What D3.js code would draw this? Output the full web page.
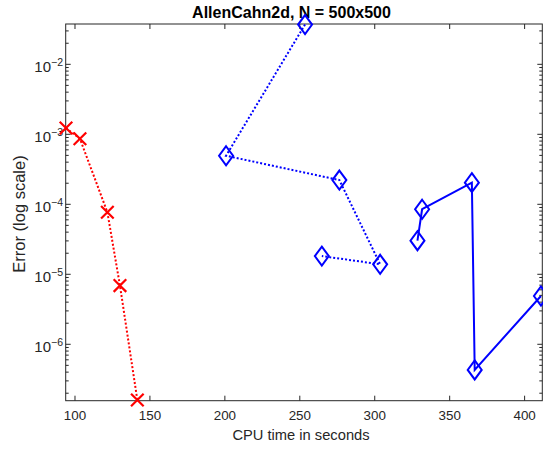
<!DOCTYPE html>
<html><head><meta charset="utf-8">
<script src="https://cdn.jsdelivr.net/npm/d3@7"></script>
<style>body{margin:0;background:#fff;} svg{display:block;} text{font-family:"Liberation Sans",Arial,Helvetica,sans-serif;fill:#262626;}</style>
</head><body>
<script>
// Data
const titleText = "AllenCahn2d, N = 500x500";
const xLabelText = "CPU time in seconds";
const yLabelText = "Error (log scale)";
const xTicks = [100, 150, 200, 250, 300, 350, 400];
const yTickExps = [-6, -5, -4, -3, -2];

const redX = [94, 103.3, 121.6, 130, 141.6];
const redY = [1.23e-3, 8.65e-4, 7.7e-5, 6.9e-6, 1.6e-7];

const blueDotX = [253.5, 200.8, 276.4, 303.6, 264.7];
const blueDotY = [0.037, 4.94e-4, 2.22e-4, 1.39e-5, 1.82e-5];

const blueSolidX = [328.5, 331.6, 364.8, 366.7, 410.9];
const blueSolidY = [3.02e-5, 8.5e-5, 2.04e-4, 4.3e-7, 4.9e-6];

const xDomain = [93.8, 411.8];
const yDomain = [Math.pow(10, -6.806), Math.pow(10, -1.424)];

// Layout
const W = 543, H = 450;
const L = 65.7, R = 542.3, T = 24, B = 400.7;
const axisColor = "#262626";

const svg = d3.select("body").append("svg").attr("width", W).attr("height", H);
svg.append("rect").attr("width", W).attr("height", H).attr("fill", "#fff");

const x = d3.scaleLinear().domain(xDomain).range([L, R]);
const y = d3.scaleLog().domain(yDomain).range([B, T]);

// Box
svg.append("rect").attr("x", L).attr("y", T).attr("width", R - L).attr("height", B - T)
  .attr("fill", "none").attr("stroke", axisColor).attr("stroke-width", 1);

const g = svg.append("g");
// X ticks (bottom and top, inward)
xTicks.forEach(v => {
  const px = x(v);
  g.append("line").attr("x1", px).attr("x2", px).attr("y1", B).attr("y2", B - 5).attr("stroke", axisColor);
  g.append("line").attr("x1", px).attr("x2", px).attr("y1", T).attr("y2", T + 5).attr("stroke", axisColor);
  svg.append("text").attr("x", px).attr("y", B + 19.5).attr("text-anchor", "middle")
    .style("font-size", "13.4px").text(v);
});

// Y ticks (major + minor, left and right, inward)
const lo = Math.floor(Math.log10(yDomain[0])), hi = Math.ceil(Math.log10(yDomain[1]));
for (let e = lo; e <= hi; e++) {
  for (let m = 1; m <= 9; m++) {
    const v = m * Math.pow(10, e);
    if (v < yDomain[0] || v > yDomain[1]) continue;
    const py = y(v);
    const len = m === 1 ? 5 : 3;
    g.append("line").attr("x1", L).attr("x2", L + len).attr("y1", py).attr("y2", py).attr("stroke", axisColor);
    g.append("line").attr("x1", R).attr("x2", R - len).attr("y1", py).attr("y2", py).attr("stroke", axisColor);
  }
}
yTickExps.forEach(e => {
  const py = y(Math.pow(10, e));
  const t = svg.append("text").attr("x", 63).attr("y", py + 8).attr("text-anchor", "end").style("font-size", "15px");
  t.append("tspan").text("10");
  t.append("tspan").attr("dy", -6.5).style("font-size", "10.5px").text("\u2212" + String(-e));
});

// Labels
svg.append("text").attr("x", 291.5).attr("y", 18).attr("text-anchor", "middle")
  .style("font-size", "16px").style("font-weight", "bold").style("fill", "#000").text(titleText);
svg.append("text").attr("x", 301).attr("y", 440).attr("text-anchor", "middle")
  .style("font-size", "14.7px").text(xLabelText);
svg.append("text").attr("transform", `translate(25,214) rotate(-90)`).attr("text-anchor", "middle")
  .style("font-size", "16.5px").text(yLabelText);

// Lines
const line = d3.line().x(d => x(d[0])).y(d => y(d[1]));
const redData = redX.map((v, i) => [v, redY[i]]);
const bdData = blueDotX.map((v, i) => [v, blueDotY[i]]);
const bsData = blueSolidX.map((v, i) => [v, blueSolidY[i]]);

svg.append("path").datum(redData).attr("d", line).attr("fill", "none").attr("stroke", "#ff0000")
  .attr("stroke-width", 2).attr("stroke-dasharray", "2,2");
svg.append("path").datum(bdData).attr("d", line).attr("fill", "none").attr("stroke", "#0000ff")
  .attr("stroke-width", 2).attr("stroke-dasharray", "2,2");
svg.append("path").datum(bsData).attr("d", line).attr("fill", "none").attr("stroke", "#0000ff")
  .attr("stroke-width", 2);

// Markers
const s = 6.3;
svg.selectAll(".xm").data(redData).enter().append("path")
  .attr("d", d => { const cx = x(d[0]), cy = y(d[1]);
    return `M${cx-s},${cy-s}L${cx+s},${cy+s}M${cx-s},${cy+s}L${cx+s},${cy-s}`; })
  .attr("stroke", "#ff0000").attr("stroke-width", 2.2).attr("fill", "none");
const dw = 7, dh = 9.5;
svg.selectAll(".dm").data(bdData.concat(bsData)).enter().append("path")
  .attr("d", d => { const cx = x(d[0]), cy = y(d[1]);
    return `M${cx},${cy-dh}L${cx+dw},${cy}L${cx},${cy+dh}L${cx-dw},${cy}Z`; })
  .attr("stroke", "#0000ff").attr("stroke-width", 2).attr("fill", "none");
</script>
</body></html>
